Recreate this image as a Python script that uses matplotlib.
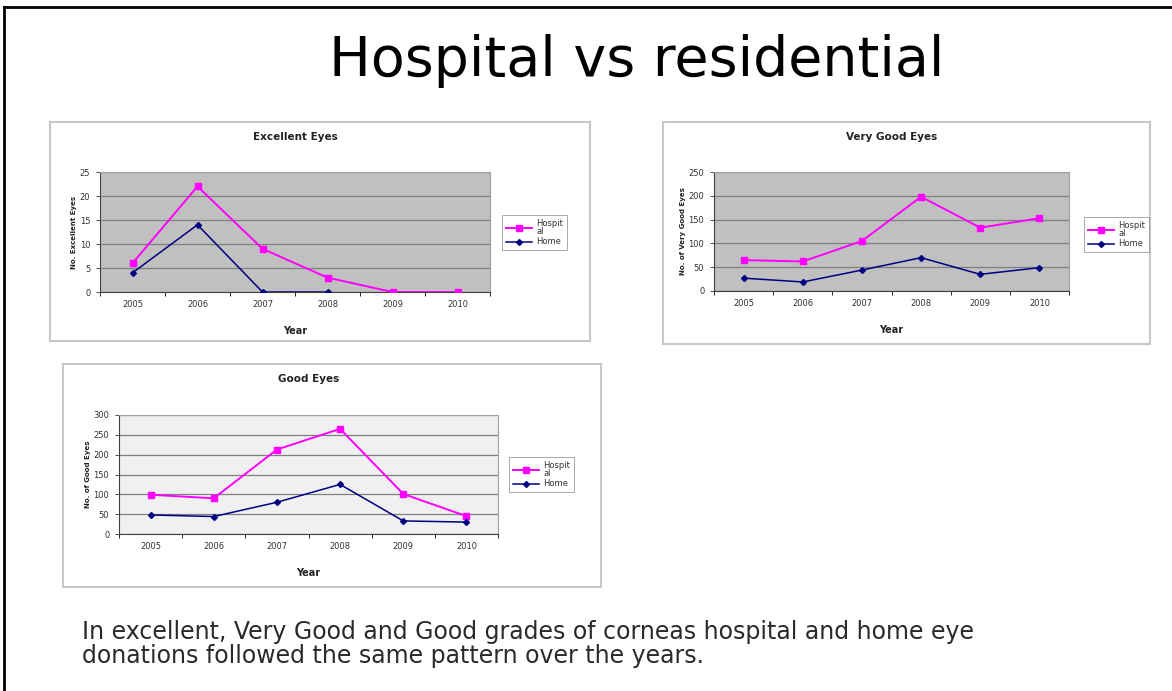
import matplotlib
matplotlib.use("Agg")
import matplotlib.pyplot as plt
from matplotlib.patches import Rectangle
from matplotlib.lines import Line2D
import numpy as np

years = ["2005", "2006", "2007", "2008", "2009", "2010"]

excellent_hospital = [6, 22, 9, 3, 0, 0]
excellent_home = [4, 14, 0, 0, np.nan, np.nan]

verygood_hospital = [65, 62, 105, 198, 133, 153]
verygood_home = [27, 19, 44, 70, 35, 49]

good_hospital = [99, 90, 213, 265, 101, 45]
good_home = [48, 44, 80, 125, 33, 30]

series_labels = ["Hospit\nal", "Home"]
main_title = "Hospital vs residential"
caption_lines = ["In excellent, Very Good and Good grades of corneas hospital and home eye",
                 "donations followed the same pattern over the years."]

W, H = 1172, 691
fig = plt.figure(figsize=(W / 100, H / 100), dpi=100)
fig.patch.set_facecolor("white")


def frac_rect(l, t, r, b):
    return [l / W, 1 - b / H, (r - l) / W, (b - t) / H]


# slide border
fig.add_artist(Line2D([4 / W, 4 / W], [0, 1 - 7 / H], transform=fig.transFigure, color="black", lw=2))
fig.add_artist(Line2D([4 / W, 1], [1 - 7 / H, 1 - 7 / H], transform=fig.transFigure, color="black", lw=2))

fig.text(637 / W, 1 - 61 / H, main_title, ha="center", va="center",
         fontsize=40, family="DejaVu Sans", color="black")

fig.text(82 / W, 1 - 632 / H, caption_lines[0], ha="left", va="center",
         fontsize=17, family="DejaVu Sans", color="#2a2a2a")
fig.text(82 / W, 1 - 656 / H, caption_lines[1], ha="left", va="center",
         fontsize=17, family="DejaVu Sans", color="#2a2a2a")

HOSP = "#ff00ff"
HOME = "#000080"


def draw_chart(box, plot, title, ylabel, hosp, home, ymax, ystep, bg, legend_box):
    bl, bt, br, bb = box
    fig.add_artist(Rectangle((bl / W, 1 - bb / H), (br - bl) / W, (bb - bt) / H,
                             transform=fig.transFigure, facecolor="white",
                             edgecolor="#c8c8c8", lw=1.5, zorder=0))
    ax = fig.add_axes(frac_rect(*plot))
    ax.set_facecolor(bg)
    x = np.arange(len(years))
    ax.plot(x, hosp, color=HOSP, marker="s", markersize=4, lw=1.4, label=series_labels[0], zorder=3)
    ax.plot(x, home, color=HOME, marker="D", markersize=3, lw=1.1, label=series_labels[1], zorder=4)
    ax.set_xlim(-0.5, len(years) - 0.5)
    ax.set_ylim(0, ymax)
    ax.set_yticks(np.arange(0, ymax + 1, ystep))
    ax.set_xticks(x)
    ax.set_xticklabels(years)
    ax.tick_params(axis="both", labelsize=6, length=3, width=0.6, colors="#333333", pad=4)
    ax.set_xticks(np.arange(-0.5, len(years), 1), minor=True)
    ax.tick_params(axis="x", which="major", length=0, pad=6)
    ax.tick_params(axis="x", which="minor", length=3, width=0.6)
    ax.grid(axis="y", color="#808080", lw=0.9)
    ax.set_axisbelow(True)
    for s in ["top", "right"]:
        ax.spines[s].set_color("#a0a0a0")
        ax.spines[s].set_linewidth(0.8)
    for s in ["left", "bottom"]:
        ax.spines[s].set_color("#404040")
        ax.spines[s].set_linewidth(0.8)
    ty = (plot[3] - (bt + 15)) / (plot[3] - plot[1])
    ax.text(0.5, ty, title, transform=ax.transAxes, ha="center", va="center",
            fontsize=7.5, fontweight="bold", family="DejaVu Sans", color="#222222")
    ax.set_xlabel("Year", fontsize=7, fontweight="bold", family="DejaVu Sans", labelpad=12, color="#222222")
    ax.set_ylabel(ylabel, fontsize=5, fontweight="bold", family="DejaVu Sans", labelpad=2, color="#222222")
    ll, lt, lr, lb = legend_box
    leg = fig.legend(loc="upper left", bbox_to_anchor=(ll / W, 1 - lt / H),
                     bbox_transform=fig.transFigure, fontsize=6, frameon=True,
                     fancybox=False, edgecolor="#808080", handlelength=3.2,
                     borderpad=0.4, labelspacing=0.2, handletextpad=0.5,
                     handles=ax.get_lines())
    leg.get_frame().set_linewidth(0.6)
    for t in leg.get_texts():
        t.set_color("#333333")
        t.set_linespacing(0.9)
    return ax


draw_chart((50, 122, 590, 341), (100, 172, 490, 292), "Excellent Eyes", "No. Excellent Eyes",
           excellent_hospital, excellent_home, 25, 5, "#c0c0c0", (498, 211, 570, 249))
draw_chart((663, 122, 1150, 344), (714, 172, 1069, 291), "Very Good Eyes", "No. of Very Good Eyes",
           verygood_hospital, verygood_home, 250, 50, "#c0c0c0", (1080, 213, 1143, 248))
draw_chart((63, 364, 601, 587), (119, 415, 498, 534), "Good Eyes", "No. of Good Eyes",
           good_hospital, good_home, 300, 50, "#f0f0f0", (505, 453, 580, 492))

fig.savefig("out.png", dpi=100, facecolor="white")
